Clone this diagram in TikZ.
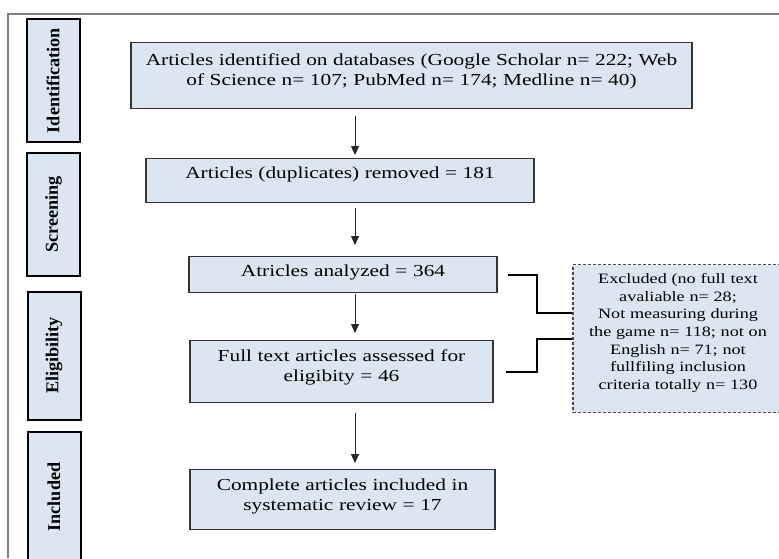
\documentclass[tikz,border=0pt]{standalone}
\usepackage{fontspec}
\setmainfont{Liberation Serif}
\newfontfamily\boxfont{Liberation Serif}[FakeStretch=1.27]
\usetikzlibrary{arrows.meta}
\definecolor{boxblue}{HTML}{DCE6F2}
\definecolor{framegray}{HTML}{808080}
\begin{document}
\begin{tikzpicture}[x=1pt,y=-1pt,font=\boxfont\fontsize{16.8}{20}\selectfont]
     \tikzstyle{stagenode}=[draw=black, line width=2pt, fill=boxblue, rotate=90, minimum height=53pt, inner sep=0pt, font=\normalfont\fontsize{18.2}{21}\selectfont\bfseries]
     \tikzstyle{stepnode}=[draw=black!80, line width=1.2pt, fill=boxblue, anchor=north, inner sep=0pt, align=center]
     \tikzstyle{exclnode}=[stepnode, draw=black!70, dash pattern=on 3pt off 2pt, font=\boxfont\fontsize{14.3}{17.6}\selectfont]
     \tikzstyle{down}=[draw=black!85, line width=1pt, -{Triangle[length=9pt,width=8pt]}]
     \tikzstyle{elbow}=[draw=black, line width=2pt]
     \useasboundingbox (0,0) rectangle (779,558);
     % frame
     \draw[framegray, line width=1.5pt] (8,558) -- (8,14) -- (779,14);
     % stages
     \node[stagenode, minimum width=123pt] (ident) at (53,80.5) {Identification};
     \node[stagenode, minimum width=123pt] (screen) at (53.5,214.5) {Screening};
     \node[stagenode, minimum width=128pt] (elig) at (54,355.5) {Eligibility};
     \node[stagenode, minimum width=130pt] (incl) at (54,497) {Included};
     % flow
     \node[stepnode, text width=561pt, text height=23pt, text depth=43pt] (idbox) at (411.5,42)
       {Articles identified on databases (Google Scholar n= 222; Web\\of Science n= 107; PubMed n= 174; Medline n= 40)};
     \node[stepnode, text width=388pt, text height=20pt, text depth=24pt] (dupbox) at (340,158)
       {Articles (duplicates) removed = 181};
     \node[stepnode, text width=308pt, text height=20pt, text depth=16pt] (anabox) at (343,256)
       {Atricles analyzed = 364};
     \node[stepnode, text width=303pt, text height=21pt, text depth=41pt] (fullbox) at (341.5,340)
       {Full text articles assessed for\\eligibity = 46};
     \node[stepnode, text width=305pt, text height=21pt, text depth=39pt] (incbox) at (342.5,469)
       {Complete articles included in\\systematic review = 17};
     \node[exclnode, text width=210pt, text height=19pt, text depth=129pt] (exbox) at (678,264)
       {Excluded (no full text\\avaliable n= 28;\\Not measuring during\\the game n= 118; not on\\English n= 71; not\\fullfiling inclusion\\criteria totally n= 130};
     \coordinate (ax) at (355,0);
     \coordinate (jx) at (537,0);
     \draw[down, shorten <=7pt, shorten >=3pt] (idbox.south -| ax) -- (dupbox.north -| ax);
     \draw[down, shorten <=5pt, shorten >=11pt] (dupbox.south -| ax) -- (anabox.north -| ax);
     \draw[down, shorten <=1pt, shorten >=7pt] (anabox.south -| ax) -- (fullbox.north -| ax);
     \draw[down, shorten <=10pt, shorten >=6pt] (fullbox.south -| ax) -- (incbox.north -| ax);
     \draw[elbow, shorten <=10pt] (anabox.east) -- (anabox.east -| jx) |- ([yshift=26pt]exbox.west);
     \draw[elbow, shorten <=12pt] (fullbox.east) -- (fullbox.east -| jx) |- (exbox.west);
\end{tikzpicture}
\end{document}
